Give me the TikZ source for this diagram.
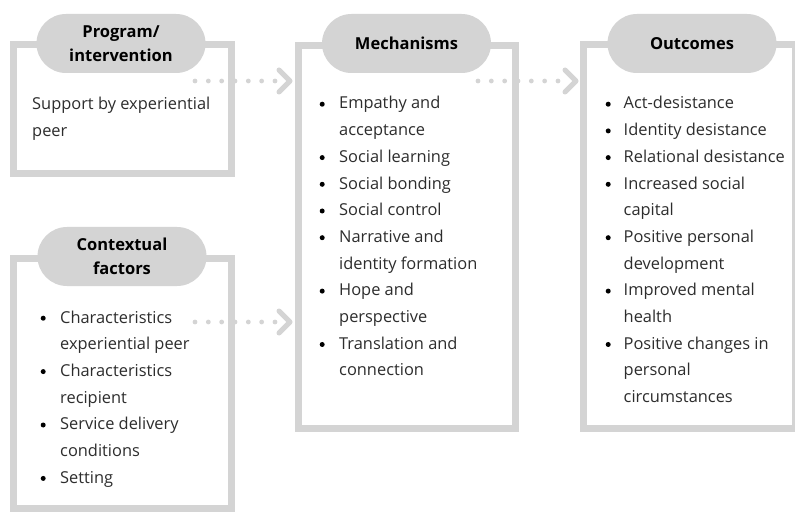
\documentclass[tikz,border=0pt]{standalone}
\usepackage{fontspec}
\setmainfont{Open Sans}
\definecolor{boxgray}{RGB}{212,212,212}
\definecolor{txt}{RGB}{45,45,45}
\newcommand\bul{\makebox[0pt]{\tikz[baseline=0pt]\fill[black] (0pt,4.8pt) circle[radius=2.5pt];}}
\begin{document}
\begin{tikzpicture}[x=1pt,y=-1pt,
  frame/.style={draw=boxgray, line width=7pt, rectangle, inner sep=0pt, outer sep=0pt},
  pill/.style={fill=boxgray, rounded corners=29.5pt, minimum width=169pt, minimum height=59pt, inner sep=0pt, font=\fontsize{16.5}{24}\selectfont\bfseries, align=center, text=black},
  body/.style={inner sep=0pt, anchor=base west, font=\fontsize{16.4}{26.7}\selectfont, text=txt},
  dotline/.style={draw=boxgray, line width=4.8pt, line cap=round, dash pattern=on 0pt off 13.33pt},
  chev/.style={draw=boxgray, line width=5pt, line cap=round, line join=round}]
\useasboundingbox (0,0) rectangle (795,513);
\clip (0,0) rectangle (795,513);
\fill[white] (0,0) rectangle (795,513);

% frames
\node[frame, minimum width=218pt, minimum height=129pt] (prog) at (122,109) {};
\node[frame, minimum width=218pt, minimum height=250pt] (ctx) at (122,383.5) {};
\node[frame, minimum width=217.5pt, minimum height=382.5pt] (mech) at (406.75,236.75) {};
\node[frame, minimum width=212.5pt, minimum height=384pt] (out) at (689.25,236.5) {};

% title pills
\node[pill] (progt) at (121,43.5) {Program/\\intervention};
\node[pill] (mecht) at (406.5,43.5) {Mechanisms};
\node[pill] (outt) at (692,43.5) {Outcomes};
\node[pill] (ctxt) at (122,256.5) {Contextual\\factors};

% texts
\node[body] (progx) at (32,110) {\begin{tabular}[t]{@{}l@{}}
Support by experiential\\
peer
\end{tabular}};

\node[body] (mechx) at (322,109) {\begin{tabular}[t]{@{}l@{\hspace{17pt}}l@{}}
\bul & Empathy and\\
 & acceptance\\
\bul & Social learning\\
\bul & Social bonding\\
\bul & Social control\\
\bul & Narrative and\\
 & identity formation\\
\bul & Hope and\\
 & perspective\\
\bul & Translation and\\
 & connection
\end{tabular}};

\node[body] (outx) at (608,109) {\begin{tabular}[t]{@{}l@{\hspace{15.5pt}}l@{}}
\bul & Act-desistance\\
\bul & Identity desistance\\
\bul & Relational desistance\\
\bul & Increased social\\
 & capital\\
\bul & Positive personal\\
 & development\\
\bul & Improved mental\\
 & health\\
\bul & Positive changes in\\
 & personal\\
 & circumstances
\end{tabular}};

\node[body] (ctxx) at (43,323) {\begin{tabular}[t]{@{}l@{\hspace{17pt}}l@{}}
\bul & Characteristics\\
 & experiential peer\\
\bul & Characteristics\\
 & recipient\\
\bul & Service delivery\\
 & conditions\\
\bul & Setting
\end{tabular}};

% dotted arrows
\coordinate (a1s) at (195,81);
\coordinate (a1t) at (290,81);
\coordinate (a2s) at (478,81);
\coordinate (a2t) at (576,81);
\coordinate (a3s) at (195,322);
\coordinate (a3t) at (290,322);
\foreach \s/\t in {a1s/a1t, a2s/a2t, a3s/a3t}{
  \draw[dotline] (\s) -- ([xshift=-15pt]\t);
  \draw[chev] ([shift={(-11pt,11pt)}]\t) -- (\t) -- ([shift={(-11pt,-11pt)}]\t);
}
\end{tikzpicture}
\end{document}
